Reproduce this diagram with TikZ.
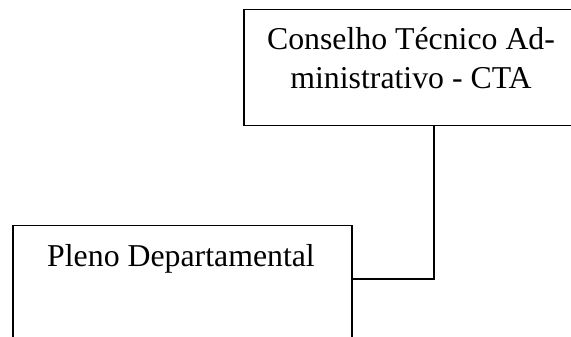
\documentclass[tikz,border=0pt]{standalone}
\usepackage{fontspec}
\setmainfont{Liberation Serif}
\begin{document}
\begin{tikzpicture}[x=1pt,y=1pt,
    orgbox/.style={draw, line width=1.5pt, inner sep=0pt},
    orgtext/.style={font=\fontsize{31.8}{39}\selectfont, align=center, inner sep=0pt}]
    \useasboundingbox (0,0) rectangle (571,337);
    \clip (0,0) rectangle (571,337);

    \node[orgbox, anchor=north west, minimum width=340pt, minimum height=116pt] (cta) at (243,328) {};
    \node[orgtext, anchor=base] (ctalabel) at (411,248) {Conselho Técnico Ad-\\ministrativo - CTA};

    \node[orgbox, anchor=north west, minimum width=339pt, minimum height=140pt] (pleno) at (12,112) {};
    \node[orgtext, anchor=base] (plenolabel) at (181,70) {Pleno Departamental};

    \coordinate (j) at (434,58);
    \draw[line width=1.5pt] (cta.south -| j) -- (j) -- (pleno.east |- j);
\end{tikzpicture}
\end{document}
